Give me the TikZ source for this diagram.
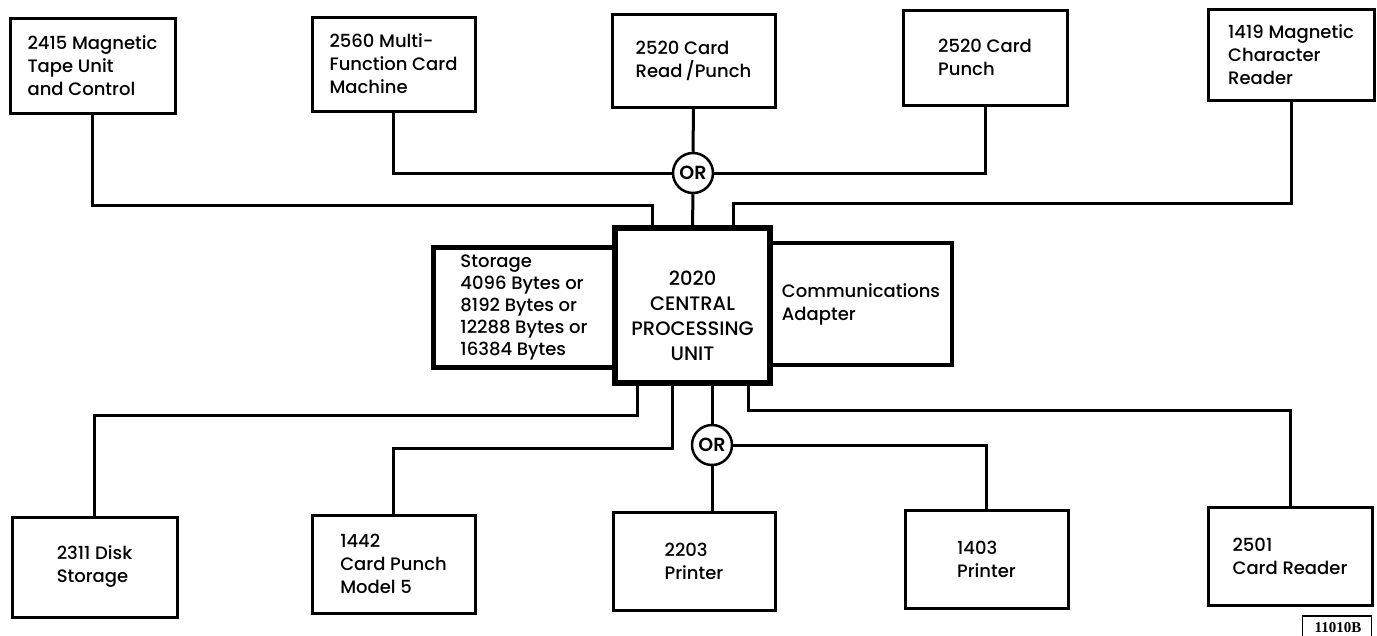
\documentclass[tikz,border=0pt]{standalone}
\usepackage{fontspec}
\setmainfont{Poppins}[UprightFont=* Medium, BoldFont=* SemiBold]
\newfontfamily\labelfont{Liberation Serif}
\begin{document}
\begin{tikzpicture}[x=1pt,y=-1pt,
  box/.style={draw, line width=3pt, inner sep=0pt, align=left, fill=white,
    font=\fontsize{18}{23}\selectfont},
  conn/.style={line width=3pt},
  orc/.style={draw, circle, line width=2.5pt, minimum size=40pt, inner sep=0pt, fill=white,
    font=\fontsize{19}{20}\selectfont\bfseries},
]
\useasboundingbox (0,0) rectangle (1377,635);

% top row
\node[box, minimum width=165pt, minimum height=95pt] (tape) at (92.5,65.5) {2415 Magnetic\\Tape Unit\\and Control};
\node[box, minimum width=163pt, minimum height=94pt] (mfcm) at (393.5,64) {2560 Multi-\\Function Card\\Machine};
\node[box, minimum width=163pt, minimum height=93pt] (crp) at (693.5,60.5) {2520 Card\\Read\,/Punch};
\node[box, minimum width=164pt, minimum height=95pt] (cp) at (985,57.5) {2520 Card\\Punch};
\node[box, minimum width=166pt, minimum height=91pt] (mcr) at (1291,54.5) {1419 Magnetic\\Character\\Reader};

% center
\node[box, line width=5pt, minimum width=182pt, minimum height=120pt, font=\fontsize{18}{22}\selectfont] (stor) at (524,307) {Storage\\4096 Bytes or\\8192 Bytes or\\12288 Bytes or\\16384 Bytes};
\node[box, line width=4.5pt, minimum width=182pt, minimum height=122pt] (comm) at (861,304) {Communications\\Adapter};
\node[box, line width=6pt, minimum width=155pt, minimum height=155pt] (cpu) at (692.5,305.5) {};
\node[align=center, font=\fontsize{19.5}{25}\selectfont, inner sep=0pt] (cputext) at (692.5,316) {2020\\CENTRAL\\PROCESSING\\UNIT};

% bottom row
\node[box, minimum width=165pt, minimum height=100pt] (disk) at (94.5,567) {2311 Disk\\Storage};
\node[box, minimum width=163pt, minimum height=98pt] (cpm) at (393.5,564) {1442\\Card Punch\\Model 5};
\node[box, minimum width=162pt, minimum height=98pt] (pa) at (694,561) {2203\\Printer};
\node[box, minimum width=163pt, minimum height=98pt] (pb) at (986.5,559) {1403\\Printer};
\node[box, minimum width=164pt, minimum height=98pt] (rdr) at (1290,556) {2501\\Card Reader};

% OR circles
\node[orc] (ortop) at (693,173) {OR};
\node[orc] (orbot) at (712,445) {OR};

% top connectors
\draw[conn] (tape.south) |- (652,205) -- (652,205 |- cpu.north);
\draw[conn] (mfcm.south) |- (ortop.west);
\draw[conn] (crp.south) -- (ortop.north);
\draw[conn] (ortop.south) -- (cpu.north);
\draw[conn] (cp.south) |- (ortop.east);
\draw[conn] (mcr.south) |- (733,203) -- (733,203 |- cpu.north);

% bottom connectors
\draw[conn] (637,0 |- cpu.south) |- (disk.north |- 0,415) -- (disk.north);
\draw[conn] (672,0 |- cpu.south) |- (cpm.north |- 0,448) -- (cpm.north);
\draw[conn] (712,0 |- cpu.south) -- (orbot.north);
\draw[conn] (orbot.south) -- (712,0 |- pa.north);
\draw[conn] (orbot.east) -| (pb.north);
\draw[conn] (748,0 |- cpu.south) |- (rdr.north |- 0,410) -- (rdr.north);

% figure code
\node[draw, line width=1.5pt, minimum width=69pt, minimum height=26pt, inner sep=0pt, anchor=north east] (code) at (1372,615) {};
\node[font=\labelfont\bfseries\fontsize{15}{15}\selectfont, inner sep=0pt] (codetext) at (1338,628) {11010B};
\end{tikzpicture}
\end{document}
